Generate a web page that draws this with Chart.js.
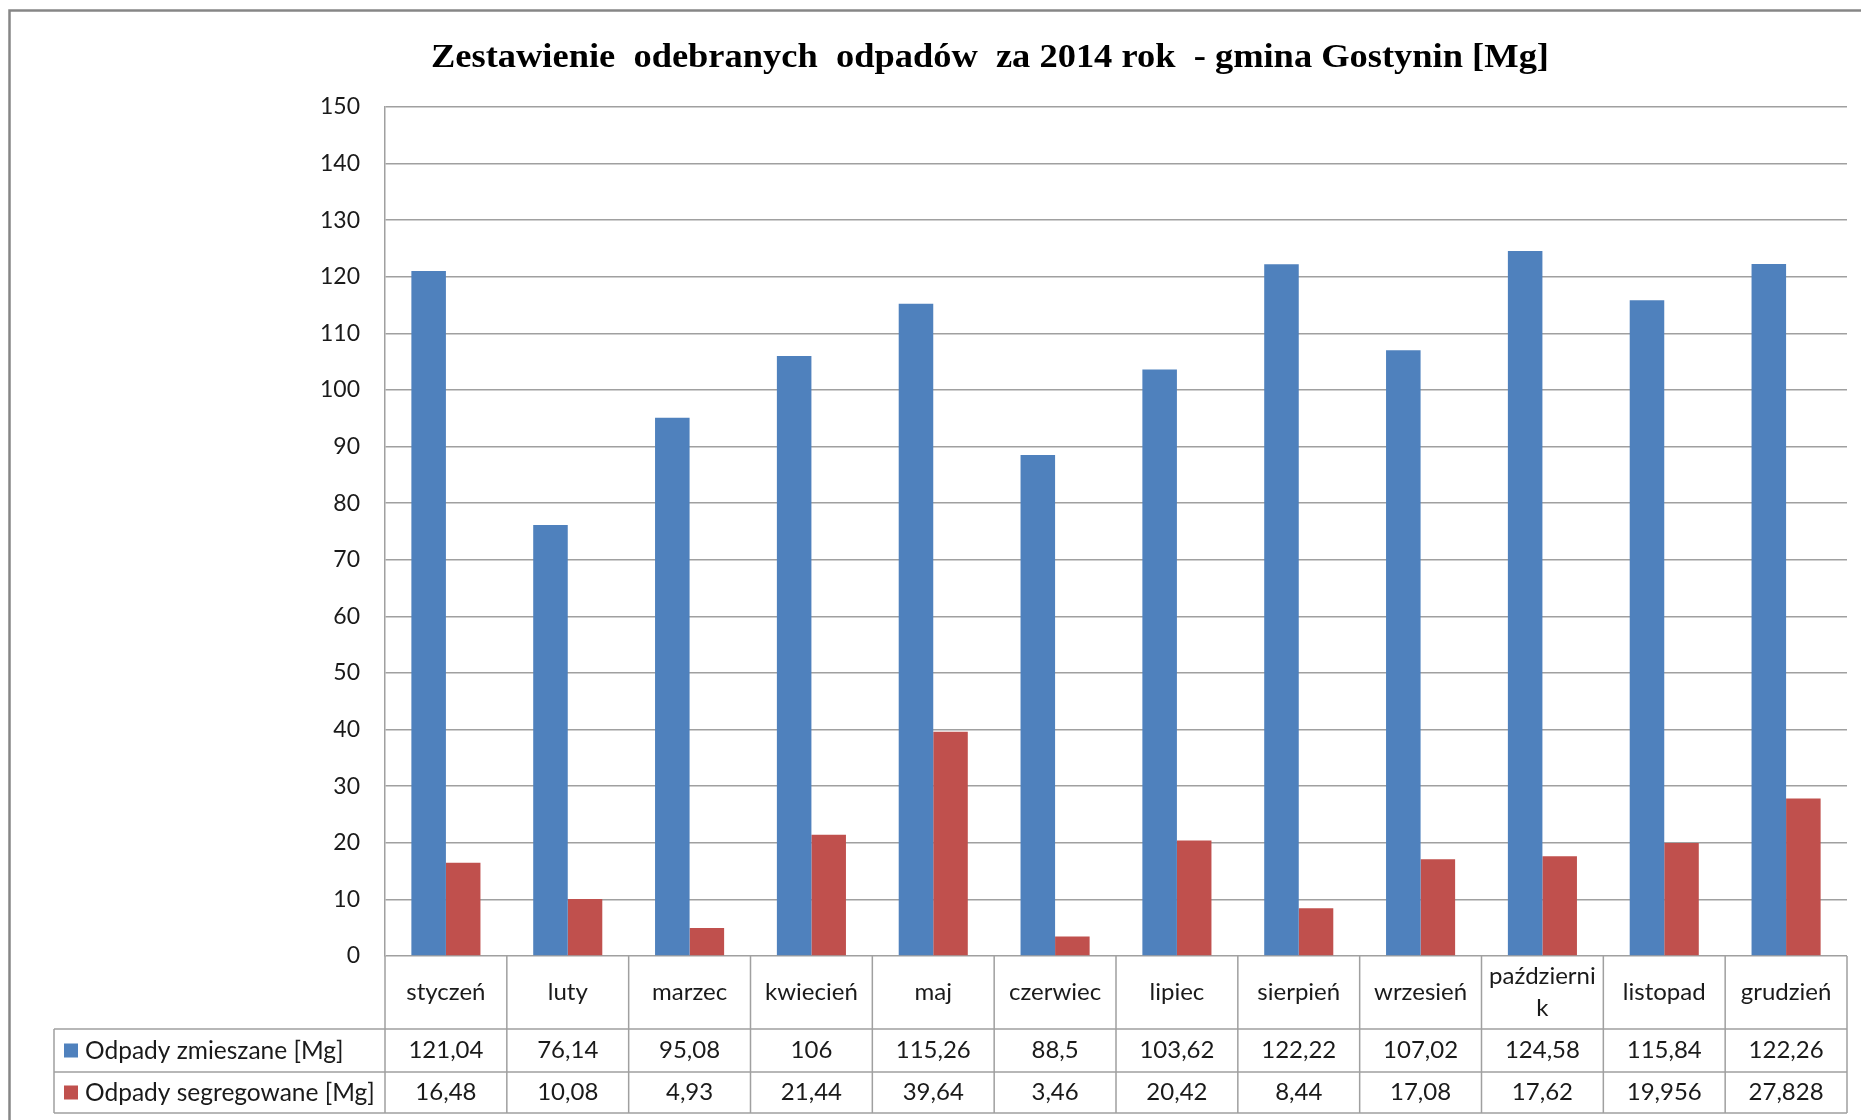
<!DOCTYPE html>
<html lang="pl">
<head>
<meta charset="utf-8">
<title>Zestawienie odebranych odpadów 2014 - gmina Gostynin</title>
<script src="https://cdn.jsdelivr.net/npm/chart.js@4.4.1/dist/chart.umd.min.js"></script>
<style>
  html, body { margin: 0; padding: 0; background: #fff; }
  #chart { display: block; }
</style>
</head>
<body>
<canvas id="chart" width="1861" height="1120"></canvas>
<script>
const TITLE = "Zestawienie  odebranych  odpadów  za 2014 rok  - gmina Gostynin [Mg]";

const categories = ["styczeń", "luty", "marzec", "kwiecień", "maj", "czerwiec",
  "lipiec", "sierpień", "wrzesień", ["październi", "k"], "listopad", "grudzień"];

const seriesNames = ["Odpady zmieszane [Mg]", "Odpady segregowane [Mg]"];
const zmieszane   = [121.04, 76.14, 95.08, 106, 115.26, 88.5, 103.62, 122.22, 107.02, 124.58, 115.84, 122.26];
const segregowane = [16.48, 10.08, 4.93, 21.44, 39.64, 3.46, 20.42, 8.44, 17.08, 17.62, 19.956, 27.828];

const yTicks = { min: 0, max: 150, step: 10 };

const COL_BLUE = "#4F81BD";
const COL_RED  = "#C0504D";
const LINE_CLR = "#a0a0a0";
const TEXT_CLR = "#1a1a1a";
const FONT = "Lato, 'Liberation Sans', sans-serif";

const fmtPL = v => String(v).replace(".", ",");

// white page, outer frame and the condensed serif title
const framePlugin = {
  id: "frame",
  beforeDraw(chart) {
    const { ctx, width, height } = chart;
    ctx.save();
    ctx.fillStyle = "#fff";
    ctx.fillRect(0, 0, width, height);
    ctx.strokeStyle = "#868686";
    ctx.lineWidth = 2.5;
    ctx.strokeRect(9.5, 10.5, width + 40, height + 40);

    ctx.fillStyle = "#000";
    ctx.font = "bold 34px 'Liberation Serif', 'DejaVu Serif', serif";
    ctx.textBaseline = "alphabetic";
    const w = ctx.measureText(TITLE).width;
    ctx.translate(431, 67);
    ctx.scale(1118 / w, 1);
    ctx.fillText(TITLE, 0, 0);
    ctx.restore();
  }
};

// Excel-like data table under the plot, with the legend keys
const tablePlugin = {
  id: "dataTable",
  afterDraw(chart) {
    const { ctx, chartArea } = chart;
    const xs = chart.scales.x;
    const n = categories.length;
    const cw = (chartArea.right - chartArea.left) / n;
    const top = chartArea.bottom;
    const r1 = top + 73, r2 = top + 116, r3 = top + 157;
    const legLeft = 54;

    ctx.save();
    ctx.strokeStyle = LINE_CLR;
    ctx.lineWidth = 1.5;
    ctx.beginPath();
    [r1, r2, r3].forEach(y => { ctx.moveTo(legLeft, y); ctx.lineTo(chartArea.right, y); });
    ctx.moveTo(legLeft, r1); ctx.lineTo(legLeft, r3);
    for (let i = 0; i <= n; i++) {
      const x = chartArea.left + i * cw;
      ctx.moveTo(x, top); ctx.lineTo(x, r3);
    }
    ctx.stroke();

    ctx.fillStyle = TEXT_CLR;
    ctx.font = "24px " + FONT;
    ctx.textAlign = "center";
    ctx.textBaseline = "middle";
    categories.forEach((lab, i) => {
      const cx = xs.getPixelForValue(i);
      const lines = Array.isArray(lab) ? lab : [lab];
      const lh = 32;
      const y0 = (top + r1) / 2 - (lines.length - 1) * lh / 2;
      lines.forEach((t, k) => ctx.fillText(t, cx, y0 + k * lh));
      ctx.fillText(fmtPL(zmieszane[i]), cx, (r1 + r2) / 2);
      ctx.fillText(fmtPL(segregowane[i]), cx, (r2 + r3) / 2);
    });

    // legend keys
    const rows = [[(r1 + r2) / 2, COL_BLUE], [(r2 + r3) / 2, COL_RED]];
    ctx.textAlign = "left";
    ctx.font = "24.5px " + FONT;
    rows.forEach(([cy, col], k) => {
      ctx.fillStyle = col;
      ctx.fillRect(64, cy - 7, 14, 14);
      ctx.fillStyle = TEXT_CLR;
      ctx.fillText(seriesNames[k], 85, cy + 1);
    });
    ctx.restore();
  }
};

new Chart(document.getElementById("chart"), {
  type: "bar",
  data: {
    labels: categories,
    datasets: [
      { label: seriesNames[0], data: zmieszane, backgroundColor: COL_BLUE },
      { label: seriesNames[1], data: segregowane, backgroundColor: COL_RED }
    ]
  },
  options: {
    responsive: false,
    animation: false,
    devicePixelRatio: 1,
    categoryPercentage: 0.567,
    barPercentage: 1.0,
    layout: { padding: { left: 0, right: 14, top: 107, bottom: 164 } },
    plugins: {
      legend: { display: false },
      title: { display: false },
      tooltip: { enabled: false }
    },
    scales: {
      x: { display: false },
      y: {
        min: yTicks.min,
        max: yTicks.max,
        afterFit: s => { s.width = 385; },
        ticks: {
          stepSize: yTicks.step,
          padding: 25,
          color: TEXT_CLR,
          font: { family: FONT, size: 23 }
        },
        grid: { color: LINE_CLR, lineWidth: 1.5, drawTicks: false },
        border: { color: LINE_CLR, width: 1.5 }
      }
    }
  },
  plugins: [framePlugin, tablePlugin]
});
</script>
</body>
</html>
